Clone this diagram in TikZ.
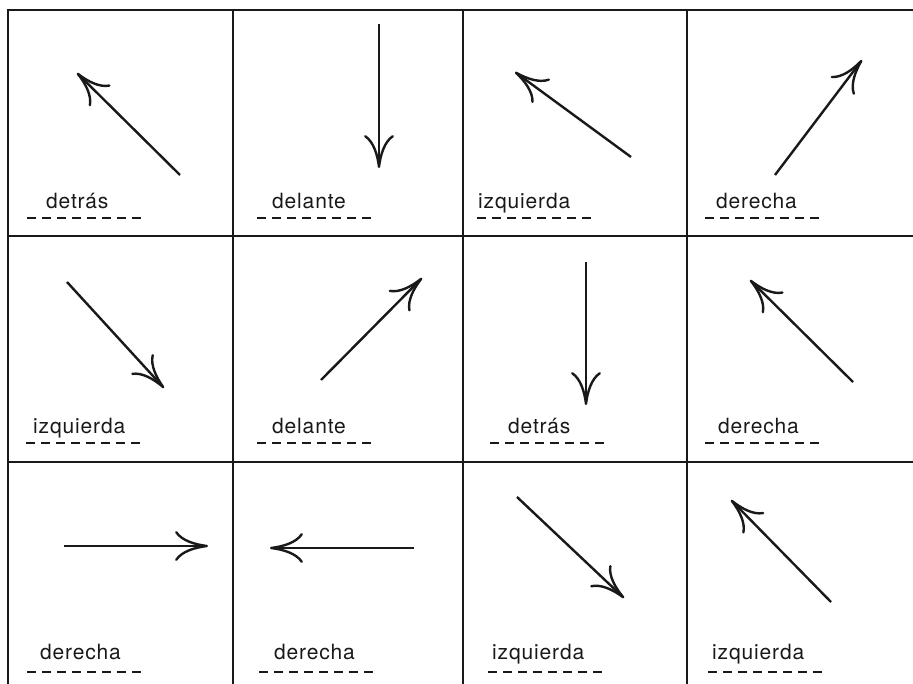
\documentclass[tikz,border=0pt]{standalone}
\usepackage{fontspec}
\setmainfont{TeX Gyre Heros}[LetterSpace=4]
\usetikzlibrary{arrows.meta}

\tikzset{
  grid line/.style={line width=1.8pt, color=black!90},
  hand arrow/.style={line width=2.4pt, color=black!90,
    -{Computer Modern Rightarrow[length=33pt, width=30pt, line width=2.4pt]}},
  answer/.style={anchor=base west, inner sep=0pt, text=black!90,
    font=\fontsize{21}{25}\selectfont},
  blank line/.style={line width=2pt, color=black!90, dash pattern=on 9pt off 6pt}
}

\begin{document}
\begin{tikzpicture}[x=1pt, y=-1pt]
  \useasboundingbox (0, 0) rectangle (913, 684);

  % the table
  \draw[grid line] (8, 684) -- (8, 10) -- (913, 10);
  \foreach \yy in {236, 462}
    \draw[grid line] (8, \yy) -- (913, \yy);
  \foreach \xx in {233, 463, 687}
    \draw[grid line] (\xx, 10) -- (\xx, 684);

  % arrows: name / tail / tip
  \foreach \name/\tx/\ty/\hx/\hy in {
      a11/180/175/77/73, a12/379/24/379/168, a13/631/157/515/72, a14/775/175/862/60,
      a21/67/282/164/388, a22/321/380/422/278, a23/586/262/586/405, a24/853/382/750/280,
      a31/64/546/208/546, a32/414/548/270/548, a33/517/497/624/598, a34/831/602/731/500} {
    \coordinate (\name-tail) at (\tx, \ty);
    \coordinate (\name-tip) at (\hx, \hy);
    \draw[hand arrow] (\name-tail) -- (\name-tip);
  }

  % words and blanks: name / text x / baseline / blank x / blank y / word
  \foreach \name/\lx/\ly/\bx/\by/\word in {
      w11/46/209/27/218/detr\'as, w12/272/209/257/218/delante,
      w13/478/209/477/218/izquierda, w14/716/209/705/218/derecha,
      w21/33/433/26/443/izquierda, w22/272/433/257/443/delante,
      w23/508/433/490/443/detr\'as, w24/718/433/705/443/derecha,
      w31/40/659/27/672/derecha, w32/274/659/259/672/derecha,
      w33/492/659/488/672/izquierda, w34/712/659/708/672/izquierda} {
    \node[answer] (\name) at (\lx, \ly) {\word};
    \coordinate (\name-from) at (\bx, \by);
    \draw[blank line] (\name-from) -- ++(114, 0);
  }
\end{tikzpicture}
\end{document}
